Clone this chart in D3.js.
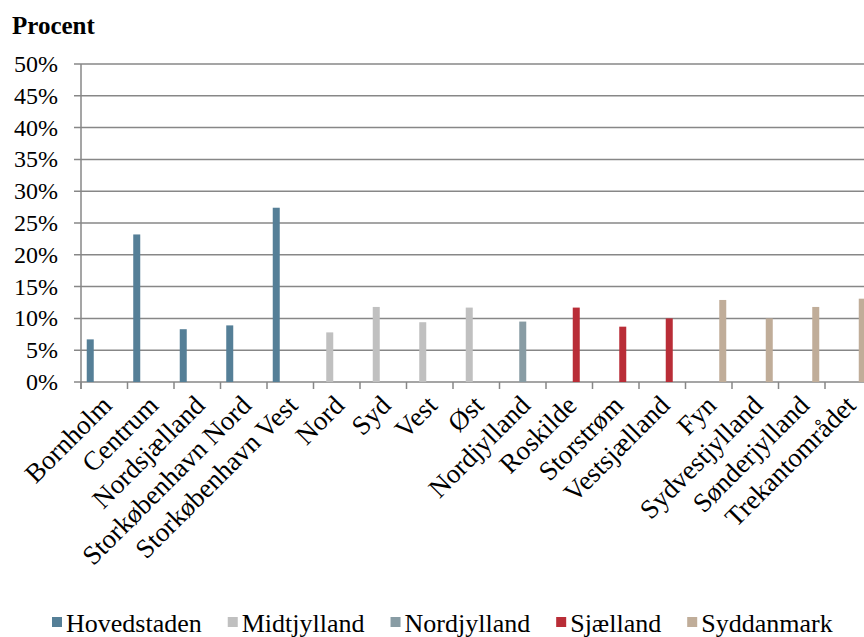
<!DOCTYPE html>
<meta charset="utf-8">
<head>
	<title>Procent pr. område</title>
	<script type="text/javascript" src="https://cdn.jsdelivr.net/npm/d3@7"></script>
	<style>
		body { margin: 0; background: #fff; }
		svg text { font-family: "Liberation Serif", "DejaVu Serif", serif; fill: #000; }
		.grid line { stroke: #878787; stroke-width: 1.5; }
	</style>
</head>
<body>
<div id="chart"></div>
<script>
	// data
	var categories = ["Bornholm", "Centrum", "Nordsjælland", "Storkøbenhavn Nord", "Storkøbenhavn Vest",
		"Nord", "Syd", "Vest", "Øst", "Nordjylland", "Roskilde", "Storstrøm", "Vestsjælland",
		"Fyn", "Sydvestjylland", "Sønderjylland", "Trekantområdet"];
	var regions = ["Hovedstaden", "Midtjylland", "Nordjylland", "Sjælland", "Syddanmark"];
	var regionOf = ["Hovedstaden", "Hovedstaden", "Hovedstaden", "Hovedstaden", "Hovedstaden",
		"Midtjylland", "Midtjylland", "Midtjylland", "Midtjylland", "Nordjylland",
		"Sjælland", "Sjælland", "Sjælland",
		"Syddanmark", "Syddanmark", "Syddanmark", "Syddanmark"];
	var values = [6.7, 23.2, 8.3, 8.9, 27.4, 7.8, 11.8, 9.4, 11.7, 9.5, 11.7, 8.7, 10.0, 12.9, 10.0, 11.8, 13.1];
	var colors = ["#557f97", "#c0c0c0", "#889ca4", "#b92d37", "#c0ad99"];
	var yTicks = [0, 5, 10, 15, 20, 25, 30, 35, 40, 45, 50];

	var w = 864, h = 637;
	var plotLeft = 81, plotTop = 64, plotBottom = 382, step = 46.5;

	var svg = d3.select("#chart").append("svg").attr("width", w).attr("height", h);

	var x = d3.scaleBand().domain(categories).range([plotLeft, plotLeft + step * categories.length]).padding(0);
	var xs = d3.scaleBand().domain(regions).range([0, x.bandwidth()]).paddingInner(0).paddingOuter(0.82);
	var y = d3.scaleLinear().domain([0, 50]).range([plotBottom, plotTop]);
	var color = d3.scaleOrdinal().domain(regions).range(colors);

	// gridlines
	svg.append("g").attr("class", "grid")
		.selectAll("line").data(yTicks).enter().append("line")
		.attr("x1", plotLeft - 7).attr("x2", plotLeft + step * categories.length)
		.attr("y1", d => y(d)).attr("y2", d => y(d));

	// y axis
	svg.append("line").attr("x1", plotLeft).attr("x2", plotLeft).attr("y1", plotTop).attr("y2", plotBottom + 7)
		.attr("stroke", "#878787").attr("stroke-width", 1.5);
	svg.selectAll(".ylab").data(yTicks).enter().append("text")
		.attr("class", "ylab")
		.attr("x", 58).attr("y", d => y(d) + 8)
		.attr("text-anchor", "end").attr("font-size", 24)
		.text(d => d + "%");

	// category ticks
	svg.selectAll(".xtick").data(d3.range(categories.length + 1)).enter().append("line")
		.attr("x1", i => plotLeft + i * step).attr("x2", i => plotLeft + i * step)
		.attr("y1", plotBottom).attr("y2", plotBottom + 7)
		.attr("stroke", "#878787").attr("stroke-width", 1.5);

	// bars
	svg.selectAll(".bar").data(values).enter().append("rect")
		.attr("class", "bar")
		.attr("x", (d, i) => x(categories[i]) + xs(regionOf[i]))
		.attr("width", xs.bandwidth())
		.attr("y", d => y(d))
		.attr("height", d => y(0) - y(d))
		.attr("fill", (d, i) => color(regionOf[i]));

	// x labels
	svg.selectAll(".xlab").data(categories).enter().append("text")
		.attr("class", "xlab")
		.attr("text-anchor", "end").attr("font-size", 27)
		.attr("transform", d => "translate(" + (x(d) + x.bandwidth() / 2 + 9) + "," + (plotBottom + 25) + ") rotate(-45)")
		.text(d => d);

	// title
	svg.append("text").attr("x", 12).attr("y", 34).attr("font-size", 25).attr("font-weight", "bold").text("Procent");

	// legend
	var lg = svg.append("g");
	var lx = 52;
	regions.forEach(function(r, i) {
		lg.append("rect").attr("x", lx).attr("y", 617).attr("width", 10).attr("height", 10).attr("fill", colors[i]);
		var t = lg.append("text").attr("x", lx + 14).attr("y", 632).attr("font-size", 26).text(r);
		lx += 14 + t.node().getComputedTextLength() + 26;
	});
</script>
</body>
</html>
